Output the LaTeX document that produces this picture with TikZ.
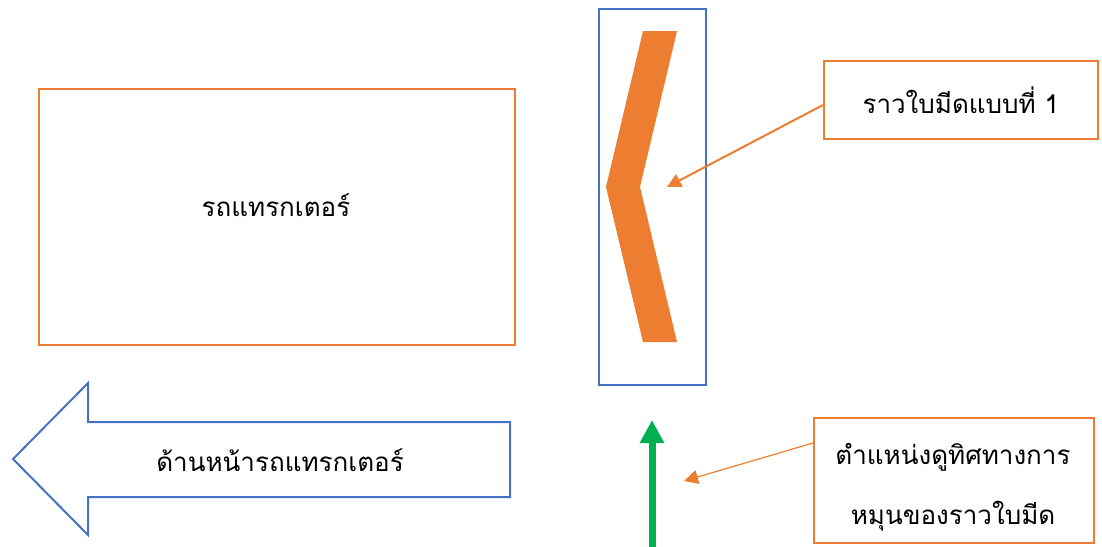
\documentclass[tikz,border=0pt]{standalone}
\usepackage{fontspec}
\newfontfamily\thaifont[Script=Thai]{Loma}
\usetikzlibrary{arrows.meta}
\definecolor{accentorange}{HTML}{ED7D31}
\definecolor{accentblue}{HTML}{4472C4}
\definecolor{accentgreen}{HTML}{00B050}
\tikzset{
  orangebox/.style={draw=accentorange, line width=1.6pt, inner sep=0pt, anchor=north west},
  bluebox/.style={draw=accentblue, line width=2pt, inner sep=0pt, anchor=north west},
  thaitext/.style={font=\thaifont\fontsize{26}{60}\selectfont, text=black, align=center},
  pointer/.style={draw=accentorange, -{Triangle[length=14pt,width=14pt]}},
}
\begin{document}
\begin{tikzpicture}[x=1pt,y=-1pt]
\useasboundingbox (0,0) rectangle (1102,546);
% tractor body
\node[orangebox, minimum width=476pt, minimum height=256pt] (tractor) at (38,88) {};
\node[thaitext] (tractortext) at (276,205) {รถแทรกเตอร์};
% blade holder frame and chevron blade
\node[bluebox, minimum width=107pt, minimum height=376pt] (frame) at (598,8) {};
\fill[accentorange] (643,31) -- (677,31) -- (640,187) -- (677,342) -- (643,342) -- (606,187) -- cycle;
\coordinate (bladetip) at (667,187);
% label for the blade
\node[orangebox, minimum width=274pt, minimum height=78pt] (bladelabel) at (823,60) {};
\node[thaitext] at (bladelabel.center) {ราวใบมีดแบบที่ 1};
\draw[pointer, line width=2pt] (823,105) -- (bladetip);
% front direction arrow
\draw[accentblue, line width=2pt] (13,459) -- (88,383) -- (88,422) -- (510,422) -- (510,497) -- (88,497) -- (88,535) -- cycle;
\node[thaitext] (fronttext) at (280,460) {ด้านหน้ารถแทรกเตอร์};
% viewing direction arrow
\coordinate (viewbase) at (652,560);
\coordinate (viewtip) at (652,420);
\draw[accentgreen, line width=7pt, -{Triangle[length=23pt,width=23pt]}] (viewbase) -- (viewtip);
% label for the viewing position
\node[orangebox, minimum width=280pt, minimum height=125pt] (viewlabel) at (813,417) {};
\node[thaitext] at (953,487) {ตำแหน่งดูทิศทางการ\\หมุนของราวใบมีด};
\coordinate (viewpoint) at (684,481);
\draw[pointer, line width=1.2pt] (813,443) -- (viewpoint);
\end{tikzpicture}
\end{document}
